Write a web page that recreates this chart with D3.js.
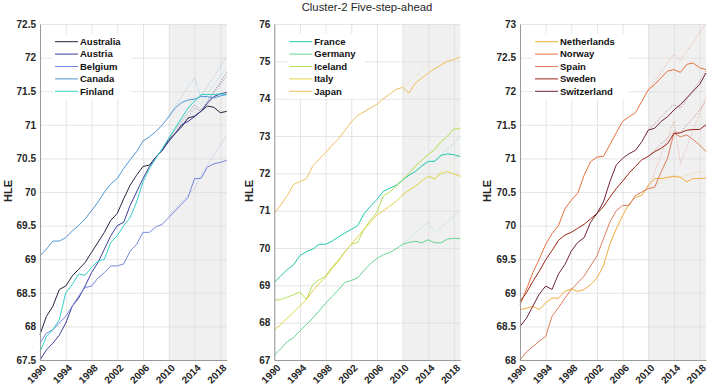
<!DOCTYPE html>
<html>
<head>
<meta charset="utf-8">
<script src="https://cdn.jsdelivr.net/npm/d3@7"></script>
<style>
  body { margin: 0; background: #fff; }
  svg { font-family: "Liberation Sans", Arial, Helvetica, sans-serif; }
</style>
</head>
<body>
<div id="chart"></div>
<script>
'use strict';

// years on the x axis, forecast window
const years = d3.range(1990, 2020);
const fcYears = d3.range(2010, 2020);
const xTicks = [1990, 1994, 1998, 2002, 2006, 2010, 2014, 2018];

// panel 1
const names1 = ['Australia', 'Austria', 'Belgium', 'Canada', 'Finland'];
const colors1 = ['#23233f', '#3d3d9c', '#7587dc', '#4f97d6', '#36cfc8'];
const yTicks1 = [67.5, 68, 68.5, 69, 69.5, 70, 70.5, 71, 71.5, 72, 72.5];
const australia = [67.88, 68.15, 68.3, 68.55, 68.6, 68.75, 68.85, 68.95, 69.1, 69.25, 69.4, 69.58, 69.68, 69.9, 70.1, 70.25, 70.38, 70.4, 70.52, 70.62, 70.78, 70.87, 70.97, 71.1, 71.13, 71.2, 71.28, 71.26, 71.18, 71.2];
const austria = [67.5, 67.65, 67.75, 67.87, 68.05, 68.3, 68.42, 68.6, 68.8, 68.95, 69.15, 69.35, 69.5, 69.55, 69.8, 70.0, 70.2, 70.38, 70.52, 70.62, 70.75, 70.87, 71.0, 71.05, 71.12, 71.2, 71.32, 71.42, 71.46, 71.48];
const belgium = [67.75, 67.9, 67.95, 68.05, 68.15, 68.3, 68.45, 68.58, 68.6, 68.72, 68.8, 68.9, 68.9, 68.93, 69.12, 69.22, 69.4, 69.4, 69.48, 69.52, 69.62, 69.72, 69.82, 69.92, 70.2, 70.2, 70.37, 70.42, 70.44, 70.47];
const canada = [69.05, 69.15, 69.27, 69.27, 69.32, 69.42, 69.5, 69.6, 69.72, 69.85, 70.0, 70.12, 70.2, 70.35, 70.48, 70.6, 70.76, 70.82, 70.9, 71.0, 71.12, 71.25, 71.33, 71.37, 71.38, 71.42, 71.42, 71.4, 71.43, 71.45];
const finland = [67.62, 67.85, 67.95, 68.1, 68.5, 68.62, 68.78, 68.76, 68.88, 68.97, 69.0, 69.25, 69.35, 69.5, 69.62, 69.85, 70.15, 70.35, 70.5, 70.65, 70.8, 70.95, 71.1, 71.25, 71.35, 71.45, 71.45, 71.45, 71.46, 71.45];
const australiaFc = [70.8, 70.92, 71.05, 71.18, 71.3, 71.22, 71.35, 71.5, 71.63, 71.78];
const austriaFc = [70.75, 70.88, 71.0, 71.12, 71.25, 71.2, 71.33, 71.47, 71.6, 71.72];
const belgiumFc = [69.65, 69.75, 69.85, 69.95, 70.05, 70.25, 70.4, 70.55, 70.7, 70.85];
const canadaFc = [71.12, 71.27, 71.42, 71.57, 71.7, 71.42, 71.57, 71.72, 71.87, 72.02];
const finlandFc = [70.8, 70.95, 71.1, 71.25, 71.4, 71.3, 71.45, 71.6, 71.73, 71.85];

// panel 2
const names2 = ['France', 'Germany', 'Iceland', 'Italy', 'Japan'];
const colors2 = ['#22c8ad', '#62d68e', '#b5e05a', '#e3d24c', '#eec060'];
const yTicks2 = [67, 68, 69, 70, 71, 72, 73, 74, 75, 76];
const france = [69.08, 69.25, 69.42, 69.55, 69.8, 69.9, 69.97, 70.1, 70.1, 70.18, 70.3, 70.4, 70.5, 70.6, 70.92, 71.12, 71.3, 71.52, 71.6, 71.68, 71.82, 71.95, 72.05, 72.2, 72.32, 72.32, 72.48, 72.52, 72.5, 72.45];
const germany = [67.13, 67.3, 67.49, 67.6, 67.78, 67.95, 68.12, 68.32, 68.52, 68.7, 68.88, 69.08, 69.13, 69.2, 69.4, 69.58, 69.72, 69.82, 69.88, 69.98, 70.1, 70.15, 70.18, 70.14, 70.22, 70.14, 70.14, 70.24, 70.26, 70.25];
const iceland = [68.6, 68.62, 68.68, 68.75, 68.82, 68.62, 69.02, 69.15, 69.25, 69.48, 69.68, 69.9, 70.1, 70.15, 70.5, 70.75, 70.95, 71.4, 71.5, 71.65, 71.82, 72.0, 72.2, 72.35, 72.5, 72.65, 72.85, 73.0, 73.18, 73.2];
const italy = [67.8, 67.95, 68.12, 68.28, 68.45, 68.62, 68.85, 69.05, 69.22, 69.45, 69.65, 69.9, 70.1, 70.3, 70.5, 70.7, 70.88, 71.0, 71.12, 71.25, 71.42, 71.55, 71.65, 71.8, 71.92, 71.85, 72.0, 72.05, 71.98, 71.92];
const japan = [70.93, 71.15, 71.4, 71.7, 71.78, 71.85, 72.2, 72.38, 72.55, 72.75, 72.92, 73.15, 73.38, 73.55, 73.65, 73.75, 73.85, 74.0, 74.12, 74.25, 74.3, 74.15, 74.42, 74.55, 74.68, 74.8, 74.9, 75.0, 75.05, 75.12];
const franceFc = [71.82, 71.95, 72.05, 72.18, 72.3, 72.35, 72.5, 72.65, 72.82, 72.98];
const germanyFc = [70.1, 70.25, 70.4, 70.55, 70.7, 70.4, 70.55, 70.7, 70.85, 71.0];
const icelandFc = [71.82, 72.0, 72.18, 72.35, 72.52, 72.6, 72.8, 73.0, 73.22, 73.45];
const italyFc = [71.42, 71.55, 71.68, 71.8, 71.92, 71.9, 72.05, 72.2, 72.38, 72.55];
const japanFc = [74.3, 74.45, 74.6, 74.75, 74.9, 74.78, 74.92, 75.06, 75.2, 75.38];

// panel 3
const names3 = ['Netherlands', 'Norway', 'Spain', 'Sweden', 'Switzerland'];
const colors3 = ['#f0ac3c', '#e8703c', '#dc7c5c', '#9a2418', '#6e2236'];
const yTicks3 = [68, 68.5, 69, 69.5, 70, 70.5, 71, 71.5, 72, 72.5, 73];
const netherlands = [68.75, 68.77, 68.8, 68.75, 68.85, 68.92, 68.92, 69.02, 69.06, 69.02, 69.05, 69.12, 69.22, 69.4, 69.72, 69.95, 70.15, 70.32, 70.42, 70.45, 70.6, 70.7, 70.7, 70.72, 70.73, 70.72, 70.65, 70.7, 70.7, 70.71];
const norway = [68.82, 69.05, 69.3, 69.5, 69.72, 69.88, 70.0, 70.25, 70.38, 70.48, 70.75, 70.95, 71.02, 71.03, 71.2, 71.38, 71.55, 71.62, 71.68, 71.85, 72.02, 72.1, 72.2, 72.3, 72.32, 72.28, 72.4, 72.42, 72.35, 72.32];
const spain = [68.0, 68.12, 68.2, 68.28, 68.35, 68.65, 68.78, 68.92, 69.05, 69.15, 69.25, 69.4, 69.55, 69.8, 70.05, 70.22, 70.3, 70.3, 70.45, 70.5, 70.55, 70.57, 70.8, 71.0, 71.38, 71.32, 71.35, 71.28, 71.2, 71.1];
const sweden = [68.87, 69.0, 69.17, 69.32, 69.49, 69.63, 69.78, 69.86, 69.9, 69.96, 70.02, 70.1, 70.18, 70.28, 70.42, 70.55, 70.66, 70.78, 70.88, 70.98, 71.03, 71.1, 71.15, 71.22, 71.37, 71.38, 71.42, 71.43, 71.43, 71.5];
const switzerland = [68.5, 68.62, 68.8, 68.98, 69.1, 69.05, 69.28, 69.42, 69.62, 69.75, 69.82, 70.05, 70.18, 70.35, 70.65, 70.9, 71.0, 71.07, 71.12, 71.25, 71.42, 71.45, 71.55, 71.62, 71.72, 71.8, 71.9, 72.0, 72.1, 72.27];
const netherlandsFc = [70.55, 70.6, 70.65, 70.7, 70.75, 70.72, 70.75, 70.78, 70.8, 70.82];
const norwayFc = [72.02, 72.15, 72.28, 72.42, 72.55, 72.45, 72.6, 72.73, 72.87, 73.0];
const spainFc = [70.55, 70.8, 71.05, 71.3, 71.55, 70.92, 71.17, 71.42, 71.67, 71.92];
const swedenFc = [71.03, 71.12, 71.22, 71.3, 71.4, 71.38, 71.5, 71.6, 71.72, 71.85];
const switzerlandFc = [71.42, 71.52, 71.62, 71.72, 71.8, 71.75, 71.88, 72.02, 72.15, 72.3];

const width = 708, height = 391;
const plotTop = 24, plotBottom = 360;

const svg = d3.select('#chart').append('svg')
    .attr('width', width)
    .attr('height', height);

svg.append('text')
    .attr('x', 367)
    .attr('y', 10.5)
    .attr('text-anchor', 'middle')
    .attr('font-size', '11.3px')
    .attr('fill', '#262626')
    .text('Cluster-2 Five-step-ahead');

const panels = [
  { left: 40, right: 226.7, labelX: 11.5, legendW: 78, domain: [67.5, 72.5], ticks: yTicks1,
    names: names1, colors: colors1,
    series: [australia, austria, belgium, canada, finland],
    forecast: [australiaFc, austriaFc, belgiumFc, canadaFc, finlandFc] },
  { left: 274.3, right: 460.3, labelX: 253, legendW: 78, domain: [67, 76], ticks: yTicks2,
    names: names2, colors: colors2,
    series: [france, germany, iceland, italy, japan],
    forecast: [franceFc, germanyFc, icelandFc, italyFc, japanFc] },
  { left: 520, right: 706, labelX: 490.5, legendW: 96, domain: [68, 73], ticks: yTicks3,
    names: names3, colors: colors3,
    series: [netherlands, norway, spain, sweden, switzerland],
    forecast: [netherlandsFc, norwayFc, spainFc, swedenFc, switzerlandFc] }
];

panels.forEach(p => drawPanel(p));

function drawPanel(p) {
  const x = d3.scaleLinear().domain([1990, 2019]).range([p.left, p.right]);
  const y = d3.scaleLinear().domain(p.domain).range([plotBottom, plotTop]);
  const g = svg.append('g');

  // shaded forecast window
  g.append('rect')
      .attr('x', x(2010))
      .attr('y', plotTop)
      .attr('width', x(2019) - x(2010))
      .attr('height', plotBottom - plotTop)
      .attr('fill', '#f0f0f0');

  // grid
  g.append('g')
      .attr('transform', `translate(${p.left},0)`)
      .call(d3.axisLeft(y).tickValues(p.ticks).tickSize(-(p.right - p.left)).tickFormat(''))
      .call(a => a.select('.domain').remove())
      .call(a => a.selectAll('line').attr('stroke', '#dedede').attr('stroke-width', 0.8));

  g.append('g')
      .attr('transform', `translate(0,${plotBottom})`)
      .call(d3.axisBottom(x).tickValues(xTicks).tickSize(-(plotBottom - plotTop)).tickFormat(''))
      .call(a => a.select('.domain').remove())
      .call(a => a.selectAll('line').attr('stroke', '#dedede').attr('stroke-width', 0.8));

  // forecasts (dotted)
  const fcLine = d3.line()
      .x((d, i) => x(fcYears[i]))
      .y(d => y(d));

  g.selectAll('.fc')
      .data(p.forecast)
    .enter().append('path')
      .attr('class', 'fc')
      .attr('fill', 'none')
      .attr('stroke', (d, i) => p.colors[i])
      .attr('stroke-width', 0.7)
      .attr('stroke-dasharray', '1,1.5')
      .attr('opacity', 0.75)
      .attr('d', fcLine);

  // observed series
  const line = d3.line()
      .x((d, i) => x(years[i]))
      .y(d => y(d));

  g.selectAll('.series')
      .data(p.series)
    .enter().append('path')
      .attr('class', 'series')
      .attr('fill', 'none')
      .attr('stroke', (d, i) => p.colors[i])
      .attr('stroke-width', 1)
      .attr('d', line);

  // axes
  g.append('g')
      .attr('transform', `translate(${p.left},0)`)
      .call(d3.axisLeft(y).tickValues(p.ticks).tickSize(0).tickPadding(4).tickFormat(d => d))
      .call(a => a.select('.domain').attr('stroke', '#9a9a9a'))
      .call(a => a.selectAll('text')
          .attr('font-size', '10px')
          .attr('font-weight', 'bold')
          .attr('fill', '#262626'));

  g.append('g')
      .attr('transform', `translate(0,${plotBottom})`)
      .call(d3.axisBottom(x).tickValues(xTicks).tickSize(0).tickFormat(d => d))
      .call(a => a.select('.domain').attr('stroke', '#9a9a9a'))
      .call(a => a.selectAll('text')
          .attr('x', 0)
          .attr('y', 0)
          .attr('dy', '0.35em')
          .attr('transform', 'translate(4,6) rotate(-45)')
          .style('text-anchor', 'end')
          .attr('font-size', '10px')
          .attr('font-weight', 'bold')
          .attr('fill', '#262626'));

  g.append('text')
      .attr('transform', `translate(${p.labelX},191) rotate(-90)`)
      .attr('text-anchor', 'middle')
      .attr('font-size', '11px')
      .attr('font-weight', 'bold')
      .attr('fill', '#262626')
      .text('HLE');

  // legend
  const lg = g.append('g');
  lg.append('rect')
      .attr('x', p.left + 13)
      .attr('y', 34)
      .attr('width', p.legendW)
      .attr('height', 65)
      .attr('fill', '#fff');

  const rows = lg.selectAll('.row')
      .data(p.names)
    .enter().append('g')
      .attr('class', 'row')
      .attr('transform', (d, i) => `translate(${p.left + 15},${41.7 + i * 12.4})`);

  rows.append('line')
      .attr('x1', 0)
      .attr('x2', 23)
      .attr('stroke', (d, i) => p.colors[i])
      .attr('stroke-width', 1);

  rows.append('text')
      .attr('x', 25)
      .attr('dy', '0.35em')
      .attr('font-size', '9.5px')
      .attr('font-weight', 'bold')
      .attr('fill', '#111')
      .text(d => d);
}
</script>
</body>
</html>
